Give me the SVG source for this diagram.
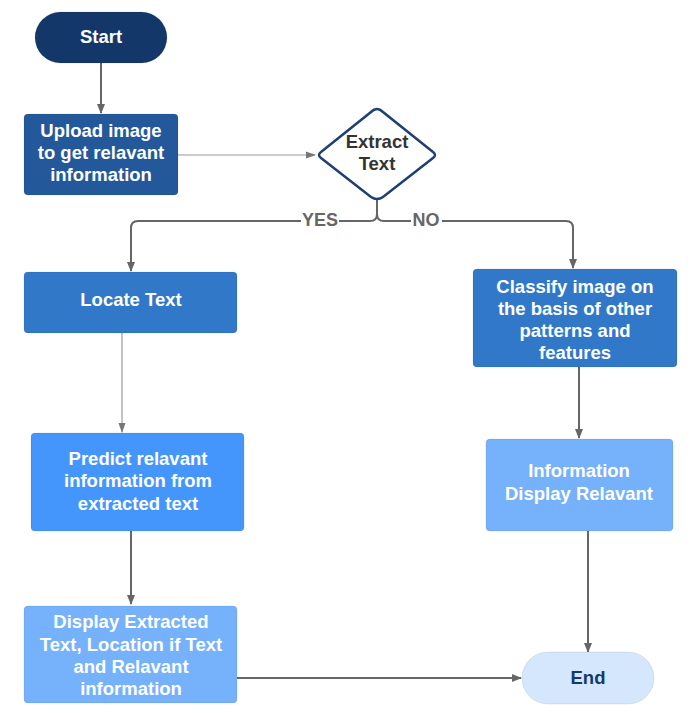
<svg xmlns="http://www.w3.org/2000/svg" width="700" height="713" viewBox="0 0 700 713">
<defs>
<marker id="ah" markerWidth="10" markerHeight="10" refX="9" refY="5" orient="auto" markerUnits="userSpaceOnUse">
<path d="M0,1 L10,5 L0,9 Z" fill="#666"/>
</marker>
<marker id="ahs" markerWidth="10" markerHeight="10" refX="9" refY="5" orient="auto" markerUnits="userSpaceOnUse">
<path d="M0,1.5 L10,5 L0,8.5 Z" fill="#777"/>
</marker>
<style>
text{font-family:"Liberation Sans",Arial,sans-serif;font-weight:bold;text-anchor:middle;font-size:18.5px;}
.w{fill:#fff;}
.d{fill:#333;}
.lbl{fill:#666;font-size:18px;}
.c{fill:none;stroke:#666;stroke-width:2;}
.t{fill:none;stroke:#999;stroke-width:1.2;}
.box{stroke:rgba(0,0,0,0.08);stroke-width:1;}
</style>
</defs>
<rect width="700" height="713" fill="#fff"/>
<g id="connectors">
<path class="c" d="M101,63 V113" marker-end="url(#ah)"/>
<path class="t" d="M178,155 H315" marker-end="url(#ahs)"/>
<path class="c" d="M377,200 V214 Q377,221 370,221 H138 Q131,221 131,228 V271" marker-end="url(#ah)"/>
<path class="c" d="M377,214 Q377,221 384,221 H566 Q573,221 573,228 V268" marker-end="url(#ah)"/>
<path class="t" d="M122,333 V432" marker-end="url(#ahs)"/>
<path class="c" d="M131,531 V604" marker-end="url(#ah)"/>
<path class="c" d="M237,678 H521" marker-end="url(#ah)"/>
<path class="c" d="M579,367 V438" marker-end="url(#ah)"/>
<path class="c" d="M588,531 V652" marker-end="url(#ah)"/>
<rect x="301" y="211" width="38" height="20" fill="#fff"/>
<text class="lbl" x="320" y="226">YES</text>
<rect x="411" y="211" width="31" height="20" fill="#fff"/>
<text class="lbl" x="426" y="226">NO</text>
</g>
<g id="start">
<rect class="box" x="35" y="12" width="132" height="51" rx="25.5" fill="#133769"/>
<text class="w" x="101" y="43">Start</text>
</g>
<g id="upload">
<rect class="box" x="24" y="114" width="154" height="81" rx="4" fill="#23599a"/>
<text class="w" x="101" y="137">Upload image</text>
<text class="w" x="101" y="159">to get relavant</text>
<text class="w" x="101" y="181">information</text>
</g>
<g id="extract">
<path d="M377,109 Q380,109 383,112 L433,152 Q437,155 433,158 L383,197 Q377,201 371,197 L321,158 Q317,155 321,152 L371,112 Q374,109 377,109 Z" fill="#fff" stroke="#1d3f74" stroke-width="2.5"/>
<text class="d" x="377" y="148">Extract</text>
<text class="d" x="377" y="170">Text</text>
</g>
<g id="locate">
<rect class="box" x="24" y="272" width="213" height="61" rx="4" fill="#3278c9"/>
<text class="w" x="131" y="306">Locate Text</text>
</g>
<g id="classify">
<rect class="box" x="473" y="269" width="204" height="98" rx="4" fill="#3278c9"/>
<text class="w" x="575" y="293">Classify image on</text>
<text class="w" x="575" y="315">the basis of other</text>
<text class="w" x="575" y="337">patterns and</text>
<text class="w" x="575" y="359">features</text>
</g>
<g id="predict">
<rect class="box" x="31" y="433" width="213" height="98" rx="4" fill="#4596fc"/>
<text class="w" x="138" y="465">Predict relavant</text>
<text class="w" x="138" y="487">information from</text>
<text class="w" x="138" y="510">extracted text</text>
</g>
<g id="information">
<rect class="box" x="486" y="439" width="187" height="92" rx="4" fill="#76b1fc"/>
<text class="w" x="579" y="477">Information</text>
<text class="w" x="579" y="500">Display Relavant</text>
</g>
<g id="display">
<rect class="box" x="24" y="606" width="213" height="97" rx="4" fill="#76b1fc"/>
<text class="w" x="131" y="628">Display Extracted</text>
<text class="w" x="131" y="651">Text, Location if Text</text>
<text class="w" x="131" y="673">and Relavant</text>
<text class="w" x="131" y="695">information</text>
</g>
<g id="end">
<rect class="box" x="522" y="652" width="132" height="52" rx="26" fill="#d5e7fd"/>
<text x="588" y="684" fill="#14386b">End</text>
</g>
</svg>
